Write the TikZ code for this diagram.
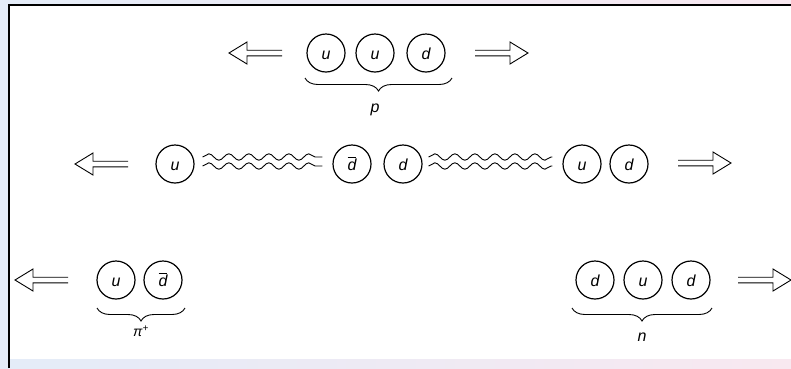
\documentclass[tikz,border=0pt]{standalone}
\usepackage{fontspec}
\setsansfont{Liberation Sans}
\usetikzlibrary{decorations.pathreplacing,decorations.pathmorphing}

\definecolor{edgeblue}{RGB}{228,236,248}
\definecolor{edgeyellow}{RGB}{252,246,222}
\definecolor{edgepink}{RGB}{248,232,240}

\tikzset{
  quark/.style={draw, circle, minimum size=38pt, inner sep=0pt, line width=1.2pt,
    text height=12pt, text depth=0pt,
    font=\sffamily\itshape\fontsize{16}{16}\selectfont},
  gluon/.style={decorate, decoration={snake, segment length=20pt, amplitude=3.2pt},
    line width=0.9pt},
  groupbrace/.style={decorate, decoration={brace, mirror, amplitude=13pt},
    line width=0.9pt},
  hadron/.style={font=\sffamily\itshape\fontsize{16}{16}\selectfont},
  pics/fatarrow/.style={code={
    \draw[line width=0.9pt, line join=miter]
      (0,-2.8) -- (-35,-2.8) -- (-35,-11) -- (-53,0) -- (-35,11) -- (-35,2.8) -- (0,2.8);
  }}
}

\begin{document}
\begin{tikzpicture}[x=1pt, y=-1pt]
  \useasboundingbox (0,0) rectangle (791,368);

  % pale frame around the page
  \shade[left color=edgeblue, middle color=edgeyellow, right color=edgepink]
    (0,0) rectangle (791,368);
  \fill[white] (9,5) rectangle (791,359);
  \draw[line width=1.4pt] (9,368) -- (9,5) -- (791,5);

  % ---- proton ----
  \node[quark] (pu1) at (326,53) {u};
  \node[quark] (pu2) at (375,53) {u};
  \node[quark] (pd1) at (426,53) {d};
  \pic at (282,53) {fatarrow};
  \pic[rotate=180] at (475,53) {fatarrow};
  \coordinate (pbl) at (305,78);
  \coordinate (pbr) at (452,78);
  \draw[groupbrace] (pbl) -- (pbr);
  \node[hadron] (plab) at (375,110) {p};

  % ---- stretched string with a new pair ----
  \node[quark] (su1) at (175,164) {u};
  \node[quark] (sdb) at (352,164) {$\overline{\mbox{d}}$};
  \node[quark] (sd1) at (403,164) {d};
  \node[quark] (su2) at (582,164) {u};
  \node[quark] (sd2) at (629,164) {d};
  \pic at (128,164) {fatarrow};
  \pic[rotate=180] at (678,163) {fatarrow};
  \draw[gluon] ([xshift=8pt,yshift=7pt]su1.east) -- ([xshift=-10pt,yshift=7pt]sdb.west);
  \draw[gluon] ([xshift=8pt,yshift=-2pt]su1.east) -- ([xshift=-10pt,yshift=-2pt]sdb.west);
  \draw[gluon] ([xshift=6pt,yshift=7pt]sd1.east) -- ([xshift=-10pt,yshift=7pt]su2.west);
  \draw[gluon] ([xshift=6pt,yshift=-2pt]sd1.east) -- ([xshift=-10pt,yshift=-2pt]su2.west);

  % ---- pion ----
  \node[quark] (mu) at (116,280) {u};
  \node[quark] (mdb) at (163,280) {$\overline{\mbox{d}}$};
  \pic at (68,280) {fatarrow};
  \coordinate (mbl) at (97,308);
  \coordinate (mbr) at (185,308);
  \draw[groupbrace] (mbl) -- (mbr);
  \node[hadron, font=\sffamily\itshape\fontsize{14}{14}\selectfont] (mlab) at (141,331)
    {π\textsuperscript{+}};

  % ---- neutron ----
  \node[quark] (nd1) at (595,280) {d};
  \node[quark] (nu) at (643,280) {u};
  \node[quark] (nd2) at (691,280) {d};
  \pic[rotate=180] at (738,280) {fatarrow};
  \coordinate (nbl) at (572,308);
  \coordinate (nbr) at (712,308);
  \draw[groupbrace] (nbl) -- (nbr);
  \node[hadron] (nlab) at (642,337) {n};
\end{tikzpicture}
\end{document}
